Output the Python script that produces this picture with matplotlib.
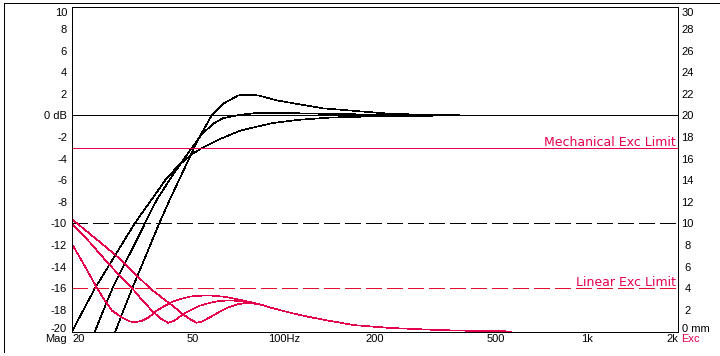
import matplotlib
matplotlib.use('Agg')
import matplotlib.pyplot as plt
import matplotlib.transforms as mtrans
from matplotlib.lines import Line2D

plt.rcParams['lines.scale_dashes'] = False

# ---------------- data ----------------
# magnitude responses (dB) - three alignments
mag_lowq_f = [20, 22, 23.8, 27, 30, 32.2, 34.5, 36.7, 40.6, 45, 50, 53.8, 60.8, 72, 92, 113, 142, 200, 300, 400]
mag_lowq_db = [-20, -17.8, -16, -13.5, -11.4, -10, -8.8, -7.75, -6, -4.6, -3.55, -3.0, -2.25, -1.4, -0.7, -0.4, -0.2, -0.08, -0.03, 0]

mag_mid_f = [23.8, 25.5, 27.2, 30, 32.5, 34.8, 36.5, 38.2, 42.8, 48, 53.6, 58.5, 63.1, 71.6, 83.3, 105, 135, 200, 300, 400]
mag_mid_db = [-20, -17.9, -16, -13.6, -11.7, -10, -8.8, -7.75, -5.6, -3.6, -1.75, -0.77, -0.25, 0.06, 0.25, 0.21, 0.15, 0.07, 0.02, 0]

mag_peak_f = [27.8, 29.5, 31.6, 35.5, 38.8, 40.9, 42.2, 45.5, 49, 52.2, 57.8, 63.1, 70.8, 76, 82.4, 94.8, 113, 135, 153, 224, 300, 400]
mag_peak_db = [-20, -18.1, -16, -12.6, -10, -8.55, -7.7, -5.75, -3.85, -2.2, 0, 1.08, 1.85, 1.9, 1.85, 1.39, 1.02, 0.65, 0.53, 0.15, 0.05, 0]

# cone excursion (mm)
exc_tail_f = [105, 119, 135, 152, 170, 224, 326, 450, 565]
exc_tail_mm = [1.75, 1.4, 1.1, 0.85, 0.6, 0.34, 0.14, 0.05, 0.02]

exc_a_f = [20, 21.8, 24.2, 25.5, 27.1, 29.2, 31, 32.3, 34, 35.8, 38.1, 40.6, 43.2, 46.1, 49.3, 54, 59, 64.6, 70, 77, 85, 92.3]
exc_a_mm = [8.1, 6.3, 4.0, 3.0, 1.94, 1.32, 0.95, 0.86, 1.0, 1.3, 1.95, 2.4, 2.8, 3.05, 3.25, 3.33, 3.32, 3.2, 3.0, 2.75, 2.45, 2.15]

exc_b_f = [20, 23, 26.4, 29, 31.6, 34, 36.7, 39, 41.5, 43.5, 46.6, 49.3, 52.9, 56.8, 60.1, 64.6, 68.2, 77, 85, 92.3]
exc_b_mm = [10.0, 8.2, 6.27, 5.08, 4.0, 2.95, 1.94, 1.25, 0.82, 1.0, 1.64, 2.0, 2.4, 2.65, 2.8, 2.87, 2.87, 2.7, 2.45, 2.15]

exc_c_f = [20, 23, 27.8, 32, 36.2, 40, 43.2, 46, 49, 51.6, 54, 58.5, 62, 66.4, 71, 77, 85, 92.3]
exc_c_mm = [10.4, 9.0, 7.1, 5.45, 4.0, 3.05, 2.35, 1.7, 1.15, 0.82, 0.95, 1.5, 1.9, 2.3, 2.55, 2.68, 2.45, 2.15]

# reference lines
zero_db = 0
ref_db = -10
mech_limit_mm = 17
linear_limit_mm = 4

# ticks
xtick_vals = [20, 50, 100, 200, 500, 1000, 2000]
xtick_labels = ['20', '50', '100Hz', '200', '500', '1k', '2k']
left_vals = [10, 8, 6, 4, 2, 0, -2, -4, -6, -8, -10, -12, -14, -16, -18, -20]
left_labels = ['10', '8', '6', '4', '2', '0 dB', '-2', '-4', '-6', '-8', '-10', '-12', '-14', '-16', '-18', '-20']
right_vals = [30, 28, 26, 24, 22, 20, 18, 16, 14, 12, 10, 8, 6, 4, 2, 0]
right_labels = ['30', '28', '26', '24', '22', '20', '18', '16', '14', '12', '10', '8', '6', '4', '2', '0 mm']

# ---------------- style ----------------
RED = '#E4004E'
DRED = '#E2102A'
FONT = 'Liberation Sans'
FS = 8
px = 0.72  # points per pixel at dpi 100
DASH = (0, (10.8, 3.6))

fig = plt.figure(figsize=(7.2, 3.56), dpi=100)
fig.patch.set_facecolor('white')
ax = fig.add_axes([72 / 720, 1 - 331.6 / 356, 606 / 720, 324.3 / 356])
ax.set_xscale('log')
ax.set_xlim(20, 2000)
ax.set_ylim(-20, 10)
ax2 = ax.twinx()
ax2.set_ylim(0, 30)

for a in (ax, ax2):
    a.tick_params(length=0, labelleft=False, labelright=False, labelbottom=False)
    a.set_yticks([])
    for s in a.spines.values():
        s.set_linewidth(0.72)
        s.set_color('black')
ax.set_xticks([])
ax.xaxis.set_minor_locator(matplotlib.ticker.NullLocator())

lw = 0.6
clw = 0.45
# horizontal reference lines
ax.axhline(zero_db, color='black', lw=lw, antialiased=False)
ax.axhline(ref_db, color='black', lw=lw, linestyle=DASH, antialiased=False)
ax2.axhline(mech_limit_mm, color=RED, lw=lw, antialiased=False)
ax2.axhline(linear_limit_mm, color=DRED, lw=lw, linestyle=DASH, antialiased=False)

# magnitude curves
for f, d in [(mag_lowq_f, mag_lowq_db), (mag_mid_f, mag_mid_db), (mag_peak_f, mag_peak_db)]:
    ax.plot(f, d, color='black', lw=clw, antialiased=False)

# excursion curves
for f, m in [(exc_a_f, exc_a_mm), (exc_b_f, exc_b_mm), (exc_c_f, exc_c_mm)]:
    ax2.plot(f + exc_tail_f, m + exc_tail_mm, color=RED, lw=clw, antialiased=False)

# limit labels
lab_tr = mtrans.offset_copy(ax2.transData, fig=fig, x=-2 * px, y=2 * px, units='points')
ax2.text(2000, mech_limit_mm, 'Mechanical Exc Limit', color=RED, fontsize=9,
         family='DejaVu Sans', ha='right', va='baseline', transform=lab_tr)
ax2.text(2000, linear_limit_mm, 'Linear Exc Limit', color=RED, fontsize=9,
         family='DejaVu Sans', ha='right', va='baseline', transform=lab_tr)

# left tick labels
ltr = mtrans.offset_copy(ax.get_yaxis_transform(), fig=fig, x=-5 * px, y=0, units='points')
ltr_top = mtrans.offset_copy(ax.get_yaxis_transform(), fig=fig, x=-5 * px, y=-1 * px, units='points')
for v, t in zip(left_vals, left_labels):
    if v == max(left_vals):
        ax.text(0, v, t, ha='right', va='top', fontsize=FS, family=FONT, transform=ltr_top)
    elif v == min(left_vals):
        ax.text(0, v, t, ha='right', va='baseline', fontsize=FS, family=FONT, transform=ltr)
    else:
        ax.text(0, v, t, ha='right', va='center_baseline', fontsize=FS, family=FONT, transform=ltr)

# right tick labels
rtr = mtrans.offset_copy(ax2.get_yaxis_transform(), fig=fig, x=9.5 * px, y=0, units='points')
rtr_top = mtrans.offset_copy(ax2.get_yaxis_transform(), fig=fig, x=9.5 * px, y=-1 * px, units='points')
rtr_left = mtrans.offset_copy(ax2.get_yaxis_transform(), fig=fig, x=3.7 * px, y=0, units='points')
for v, t in zip(right_vals, right_labels):
    if v == max(right_vals):
        ax2.text(1, v, t, ha='center', va='top', fontsize=FS, family=FONT, transform=rtr_top)
    elif v == min(right_vals):
        ax2.text(1, v, t, ha='left', va='baseline', fontsize=FS, family=FONT, transform=rtr_left)
    else:
        ax2.text(1, v, t, ha='center', va='center_baseline', fontsize=FS, family=FONT, transform=rtr)

# bottom tick labels
btr = mtrans.offset_copy(ax.get_xaxis_transform(), fig=fig, x=0, y=-2 * px, units='points')
for i, (v, t) in enumerate(zip(xtick_vals, xtick_labels)):
    ha = 'left' if i == 0 else ('right' if i == len(xtick_vals) - 1 else 'center')
    ax.text(v, 0, t, ha=ha, va='top', fontsize=FS, family=FONT, transform=btr)

ax.text(0, 0, 'Mag', ha='right', va='top', fontsize=FS, family=FONT,
        transform=mtrans.offset_copy(ax.transAxes, fig=fig, x=-5 * px, y=-2 * px, units='points'))
ax.text(1, 0, 'Exc', ha='left', va='top', fontsize=FS, family=FONT, color=RED,
        transform=mtrans.offset_copy(ax.transAxes, fig=fig, x=3.5 * px, y=-2 * px, units='points'))

# panel border (top and left)
fig.add_artist(Line2D([3.5 / 720, 3.5 / 720], [1 - 2.5 / 356, 1 - 352 / 356], transform=fig.transFigure,
                      color='black', lw=0.6, antialiased=False))
fig.add_artist(Line2D([3.5 / 720, 1], [1 - 2.5 / 356, 1 - 2.5 / 356], transform=fig.transFigure,
                      color='black', lw=0.6, antialiased=False))

fig.savefig('out.png', dpi=100)
